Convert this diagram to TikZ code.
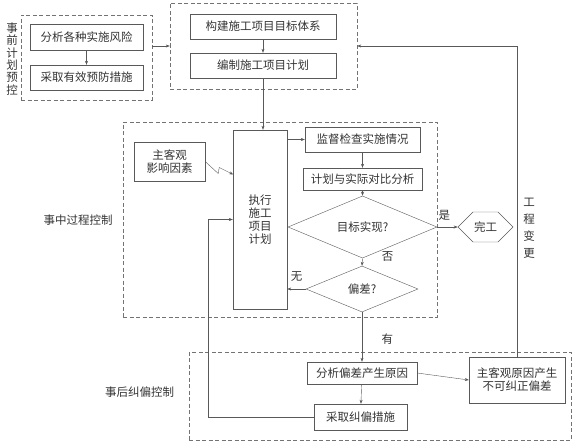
\documentclass[tikz,border=0pt]{standalone}
\usepackage{fontspec}
\setmainfont{Noto Sans CJK SC}
\usepackage{tikz}
\usetikzlibrary{arrows.meta,positioning,shapes.geometric,shapes.symbols}

\begin{document}
\begin{tikzpicture}[
  x=1pt, y=-1pt,
  every node/.style={text=black!80, font=\fontsize{11.5}{13}\selectfont},
  box/.style={draw=black!65, rectangle, inner sep=1pt, align=center},
  region/.style={draw=black!55, dashed, dash pattern=on 4pt off 2.5pt, inner sep=0pt},
  decide/.style={draw=black!65, diamond, inner sep=0pt},
  arrow/.style={-{Stealth[length=4pt,width=3pt]}, draw=black!65},
  vlabel/.style={align=center, font=\fontsize{11.5}{12.3}\selectfont}
]
  \useasboundingbox (0,0) rectangle (583,447);

  % dashed regions
  \node[region, minimum width=131pt, minimum height=85pt] (pre) at (86.5,57.5) {};
  \node[region, minimum width=187pt, minimum height=86pt] (plan) at (263.5,46) {};
  \node[region, minimum width=314pt, minimum height=195pt] (during) at (280,219.5) {};
  \node[region, minimum width=382pt, minimum height=88pt] (after) at (380,396) {};

  % region labels
  \node[vlabel] (prelbl) at (12,59) {事\\前\\计\\划\\预\\控};
  \node (duringlbl) at (78,220) {事中过程控制};
  \node (afterlbl) at (139.5,392) {事后纠偏控制};
  \node[vlabel, font=\fontsize{11.5}{17}\selectfont] (changelbl) at (529,228) {工\\程\\变\\更};

  % boxes
  \node[box, minimum width=113pt, minimum height=26pt] (risk) at (86.5,37) {分析各种实施风险};
  \node[box, minimum width=113pt, minimum height=25pt] (prevent) at (86.5,77.5) {采取有效预防措施};
  \node[box, minimum width=146pt, minimum height=25pt] (target) at (263,26.5) {构建施工项目目标体系};
  \node[box, minimum width=146pt, minimum height=25pt] (plandraft) at (263,65.5) {编制施工项目计划};
  \node[box, minimum width=71pt, minimum height=39pt] (factor) at (169.5,161.5) {主客观\\影响因素};
  \node[box, minimum width=54pt, minimum height=179pt] (exec) at (260,219.5) {执行\\施工\\项目\\计划};
  \node[box, minimum width=115pt, minimum height=25pt] (check) at (362.5,139.5) {监督检查实施情况};
  \node[box, minimum width=119pt, minimum height=22pt] (compare) at (362.5,179) {计划与实际对比分析};
  \node[decide, minimum width=149pt, minimum height=44pt] (goal) at (362.5,227) {目标实现?};
  \node[draw=black!65, signal, signal to=west and east, minimum width=55pt, minimum height=30pt, inner sep=0pt] (done) at (485.5,227) {完工};
  \node[decide, minimum width=112pt, minimum height=46pt] (dev) at (362,289) {偏差?};
  \node[box, minimum width=110pt, minimum height=22pt] (analyse) at (362,373) {分析偏差产生原因};
  \node[box, minimum width=93pt, minimum height=26pt] (correct) at (360.5,417) {采取纠偏措施};
  \node[box, minimum width=96pt, minimum height=46pt] (uncorr) at (517,380) {主客观原因产生\\不可纠正偏差};

  % connectors
  \draw[arrow] (risk) -- (prevent);
  \draw[arrow] (pre.east |- plan.west) -- (plan.west);
  \draw[arrow] (target) -- (plandraft);
  \draw[arrow] (plandraft.south) -- (plandraft.south |- exec.north);
  \draw[arrow] (factor.east) -- ++(13,12) -- ++(1,-6) -- ++(14,7);
  \draw[arrow] (exec.east |- check.west) -- (check.west);
  \draw[arrow] (check) -- (compare);
  \draw[arrow] (compare) -- (goal);
  \draw[arrow] (goal.east) -- (done.west) node[pos=0.35, above, yshift=3pt] {是};
  \draw[arrow] (goal.south) -- (dev.north) node[midway, right, xshift=16pt, yshift=6pt] {否};
  \draw[arrow] (dev.west) -- (exec.east |- dev.west) node[midway, above, yshift=4pt] {无};
  \draw[arrow] (dev.south) -- (analyse.north) node[pos=0.5, right, xshift=16pt, yshift=-2pt] {有};
  \draw[arrow] (analyse) -- (correct);
  \draw[arrow] (analyse.east) -- (uncorr.west);
  \draw[arrow] (correct.west) -- ++(-106,0) |- (exec.west);
  \draw[arrow] (uncorr.north) |- (plan.east);
\end{tikzpicture}
\end{document}
